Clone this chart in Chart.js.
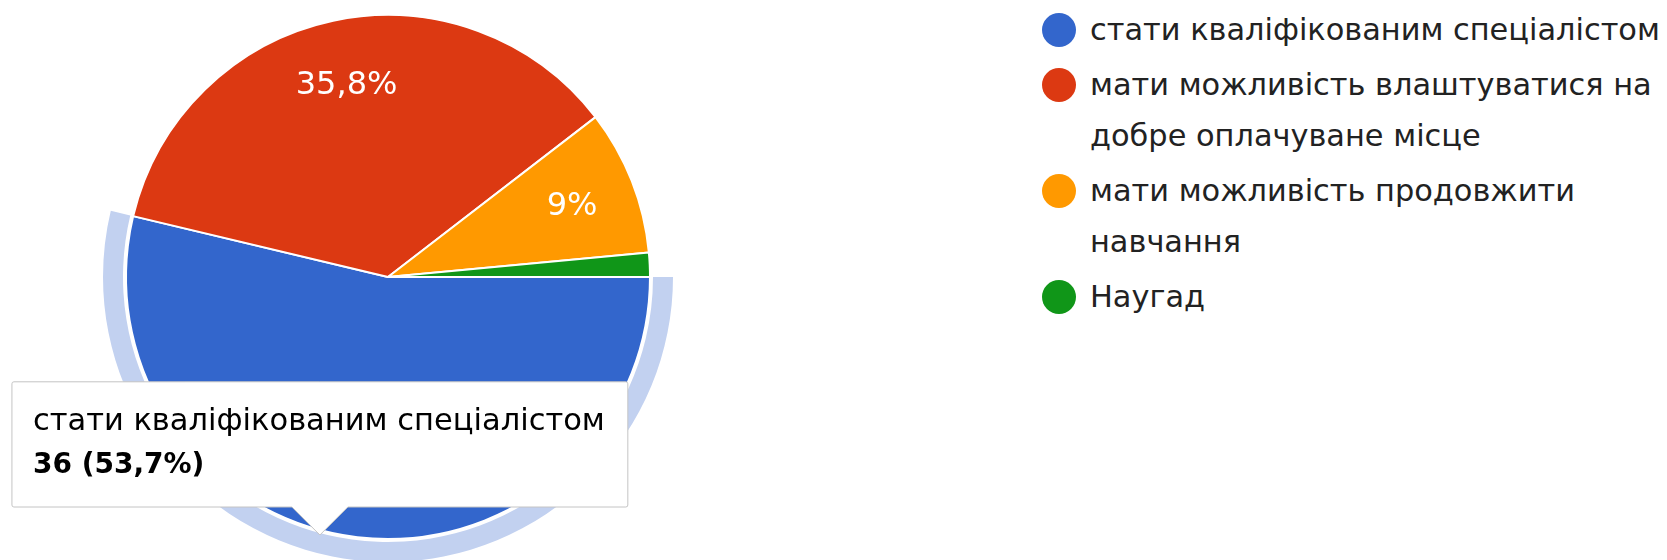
<!DOCTYPE html>
<html>
<head>
<meta charset="utf-8">
<script src="https://cdn.jsdelivr.net/npm/chart.js@4/dist/chart.umd.min.js"></script>
<style>
  body { margin: 0; background: #fff; }
  #wrap { position: relative; width: 1667px; height: 560px; overflow: hidden; }
  #box { position: absolute; left: 0; top: 0; width: 776px; height: 560px; }
  #legend { position: absolute; left: 1042px; top: 4px; width: 625px; font-family: "DejaVu Sans"; font-size: 30.4px; color: #222; }
  .item { display: flex; align-items: flex-start; margin-bottom: 3px; }
  .dot { width: 34px; height: 34px; border-radius: 50%; flex: none; margin-top: 9px; margin-right: 14px; }
  .txt { line-height: 51.5px; width: 580px; }
</style>
</head>
<body>
<div id="wrap">
  <div id="box"><canvas id="myChart"></canvas></div>
  <div id="legend"></div>
</div>
<script>
var categories = [
  'стати кваліфікованим спеціалістом',
  'мати можливість влаштуватися на добре оплачуване місце',
  'мати можливість продовжити навчання',
  'Наугад'
]
var counts = [36, 24, 6, 1]
var colors = ['#3366cc', '#dc3912', '#ff9900', '#109618']
var ringColor = '#c2d1f0'
var font = 'DejaVu Sans'

var total = counts.reduce(function (a, b) { return a + b }, 0)

function pct(v) {
  return String(parseFloat((v / total * 100).toFixed(1))).replace('.', ',')
}

// legend on the right
var legend = document.getElementById('legend')
categories.forEach(function (name, i) {
  var row = document.createElement('div')
  row.className = 'item'
  row.innerHTML = '<span class="dot" style="background:' + colors[i] + '"></span><span class="txt"></span>'
  row.querySelector('.txt').textContent = name
  legend.appendChild(row)
})

// tooltip sits under the hovered slice, like the google form one
Chart.Tooltip.positioners.bottomEdge = function (items) {
  if (!items.length) return false
  var el = items[0].element
  return { x: el.x - el.outerRadius * 0.26, y: el.y + el.outerRadius - 4 }
}

// light ring round the hovered slice
var ringPlugin = {
  id: 'ring',
  afterDatasetsDraw: function (chart) {
    var arc = chart.getDatasetMeta(0).data[0]
    var p = arc.getProps(['x', 'y', 'startAngle', 'endAngle', 'outerRadius'], true)
    var ctx = chart.ctx
    ctx.save()
    ctx.beginPath()
    ctx.arc(p.x, p.y, p.outerRadius + 23, p.startAngle, p.endAngle)
    ctx.arc(p.x, p.y, p.outerRadius + 3, p.endAngle, p.startAngle, true)
    ctx.closePath()
    ctx.fillStyle = ringColor
    ctx.fill()
    ctx.restore()
  }
}

// percent labels inside the slices
var labelPlugin = {
  id: 'pctLabels',
  afterDatasetsDraw: function (chart) {
    var ctx = chart.ctx
    var data = chart.data.datasets[0].data
    chart.getDatasetMeta(0).data.forEach(function (arc, i) {
      if (data[i] / total < 0.05) return
      var p = arc.getProps(['x', 'y', 'startAngle', 'endAngle', 'outerRadius'], true)
      var mid = (p.startAngle + p.endAngle) / 2
      var r = p.outerRadius * 0.755
      ctx.save()
      ctx.fillStyle = '#fff'
      ctx.font = '32px "' + font + '"'
      ctx.textAlign = 'center'
      ctx.textBaseline = 'middle'
      ctx.fillText(pct(data[i]) + '%', p.x + Math.cos(mid) * r, p.y + Math.sin(mid) * r + 2)
      ctx.restore()
    })
  }
}

const ctx = document.getElementById('myChart')
var chart = new Chart(ctx, {
  type: 'pie',
  data: {
    labels: categories,
    datasets: [{
      data: counts,
      backgroundColor: colors,
      hoverBackgroundColor: colors,
      borderColor: '#fff',
      hoverBorderColor: '#fff',
      borderWidth: 2,
      hoverBorderWidth: 2
    }]
  },
  options: {
    responsive: true,
    maintainAspectRatio: false,
    animation: false,
    rotation: 90,
    events: [],
    layout: { padding: { top: 14, bottom: 20, left: 0, right: 0 } },
    plugins: {
      legend: { display: false },
      tooltip: {
        enabled: true,
        position: 'bottomEdge',
        xAlign: 'center',
        yAlign: 'bottom',
        backgroundColor: '#fff',
        borderColor: '#c4c4c4',
        borderWidth: 1,
        cornerRadius: 2,
        caretSize: 28,
        caretPadding: 0,
        displayColors: false,
        titleColor: '#000',
        bodyColor: '#000',
        titleFont: { family: font, size: 30.5, weight: 'normal' },
        bodyFont: { family: font, size: 28, weight: 'bold' },
        titleMarginBottom: 9,
        padding: { top: 22, bottom: 24, left: 21, right: 23 },
        callbacks: {
          label: function (c) { return c.raw + ' (' + pct(c.raw) + '%)' }
        }
      }
    }
  },
  plugins: [ringPlugin, labelPlugin]
})

chart.tooltip.setActiveElements([{ datasetIndex: 0, index: 0 }], { x: 0, y: 0 })
chart.draw()
</script>
</body>
</html>
